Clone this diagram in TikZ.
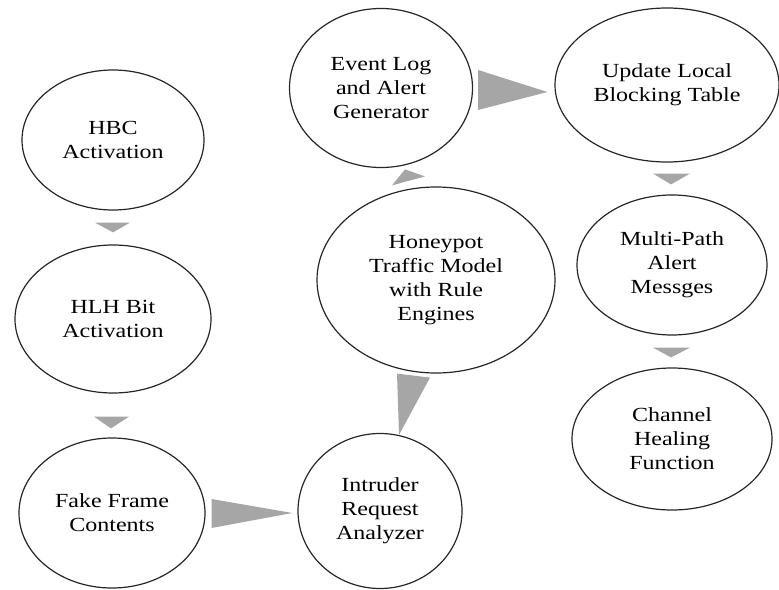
\documentclass[tikz,border=0pt]{standalone}
\usepackage{fontspec}
\setmainfont{Liberation Serif}[FakeStretch=1.2]
\usetikzlibrary{shapes.geometric,calc}

\begin{document}
\begin{tikzpicture}[x=1pt,y=-1pt,
  stage/.style={ellipse,draw=black!85,line width=1.2pt,align=center,inner sep=0pt,
    font=\fontsize{20}{24}\selectfont},
  flow/.style={fill=black!35}]
  \useasboundingbox (0,0) rectangle (779,589);
  \node[stage,minimum width=182pt,minimum height=140pt] (hbc) at (113,140) {HBC\\Activation};
  \node[stage,minimum width=196pt,minimum height=148pt] (hlh) at (113,319) {HLH Bit\\Activation};
  \node[stage,minimum width=186pt,minimum height=150pt] (fake) at (112,513) {Fake Frame\\Contents};
  \node[stage,minimum width=164pt,minimum height=155pt] (intr) at (380,511) {Intruder\\Request\\Analyzer};
  \node[stage,minimum width=238pt,minimum height=186pt] (honey) at (436,280) {Honeypot\\Traffic Model\\with Rule\\Engines};
  \node[stage,minimum width=183pt,minimum height=159pt] (event) at (381,88) {Event Log\\and Alert\\Generator};
  \node[stage,minimum width=224pt,minimum height=154pt] (upd) at (667,85) {Update Local\\Blocking Table};
  \node[stage,minimum width=190pt,minimum height=140pt] (multi) at (672,265) {Multi-Path\\Alert\\Messges};
  \node[stage,minimum width=200pt,minimum height=142pt] (chan) at (672,439) {Channel\\Healing\\Function};

  \fill[flow] ($(hbc.south)+(-18,12)$) -- ($(hbc.south)+(17,12)$) -- ($(hlh.north)+(0,-12)$) -- cycle;
  \fill[flow] ($(hlh.south)+(-19,23)$) -- ($(hlh.south)+(16,23)$) -- ($(fake.north)+(-1,-9)$) -- cycle;
  \fill[flow] ($(fake.east)+(6,-14)$) -- ($(fake.east)+(6,15)$) -- ($(intr.west)+(-5,2)$) -- cycle;
  \fill[flow] ($(honey.south)+(-39,0)$) -- ($(honey.south)+(-6,4)$) -- ($(intr.north)+(19,2)$) -- cycle;
  \fill[flow] ($(honey.north)+(-44,-1)$) -- ($(honey.north)+(-31,-17)$) -- ($(honey.north)+(-11,-10)$) -- cycle;
  \fill[flow] ($(event.east)+(5,-18)$) -- ($(event.east)+(5,22)$) -- ($(upd.west)+(-7,7)$) -- cycle;
  \fill[flow] ($(upd.south)+(-14,11)$) -- ($(upd.south)+(23,11)$) -- ($(multi.north)+(-1,-10)$) -- cycle;
  \fill[flow] ($(multi.south)+(-19,12)$) -- ($(multi.south)+(18,12)$) -- ($(chan.north)+(-1,-10)$) -- cycle;
\end{tikzpicture}
\end{document}
